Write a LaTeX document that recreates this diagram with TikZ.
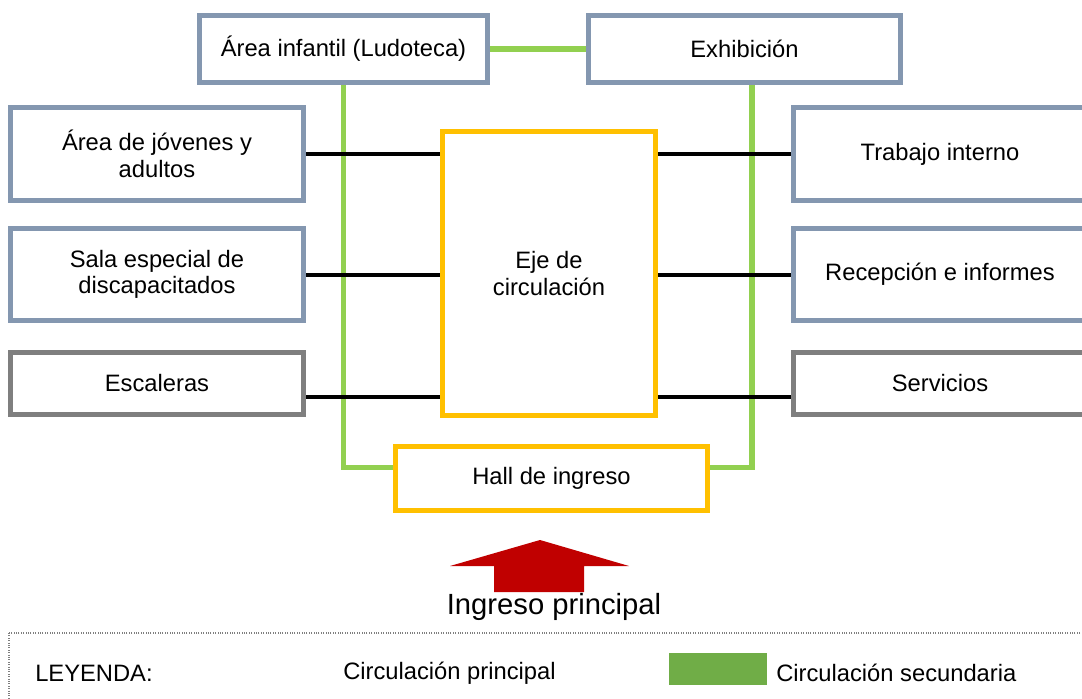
\documentclass[tikz,border=0pt]{standalone}
\usepackage{fontspec}
\setmainfont{Liberation Sans}
\usepackage{xcolor}
\usetikzlibrary{calc}

\definecolor{zonegray}{RGB}{132,151,176}
\definecolor{servgray}{RGB}{127,127,127}
\definecolor{ejeyellow}{RGB}{255,192,0}
\definecolor{secgreen}{RGB}{146,208,80}
\definecolor{legendgreen}{RGB}{112,173,71}
\definecolor{ingresored}{RGB}{192,0,0}

\begin{document}
\begin{tikzpicture}[x=0.75pt,y=0.75pt,yscale=-1,xscale=1,
  zone/.style={draw=zonegray,line width=4pt,fill=white,align=center,inner sep=2pt,
    font=\fontsize{17.8}{20}\selectfont},
  servzone/.style={zone,draw=servgray},
  ejezone/.style={zone,draw=ejeyellow},
  mainline/.style={black,line width=3pt},
  secline/.style={secgreen,line width=3.8pt},
  legendtext/.style={anchor=west,inner sep=0pt,font=\fontsize{17.8}{20}\selectfont}]
\useasboundingbox (0,0) rectangle (1082,699);

%Shape: Rectangle [upper row]
\node [zone,minimum width=216pt,minimum height=50pt] (infantil) at (343.5,49) {Área infantil (Ludoteca)};
\node [zone,minimum width=234pt,minimum height=50pt] (exhib) at (744.5,49) {Exhibición};

%Shape: Rectangle [left column]
\node [zone,minimum width=220pt,minimum height=70pt] (jovenes) at (157,154) {Área de jóvenes y\\adultos};
\node [zone,minimum width=220pt,minimum height=69pt] (sala) at (157,274.5) {Sala especial de\\discapacitados};
\node [servzone,minimum width=220pt,minimum height=46.5pt] (escal) at (157,383.5) {Escaleras};

%Shape: Rectangle [right column]
\node [zone,minimum width=220pt,minimum height=70pt] (trabajo) at (940,154) {Trabajo interno};
\node [zone,minimum width=220pt,minimum height=69pt] (recep) at (940,274.5) {Recepción e informes};
\node [servzone,minimum width=220pt,minimum height=46.5pt] (serv) at (940,383.5) {Servicios};

%Shape: Rectangle [center]
\node [ejezone,minimum width=160pt,minimum height=213pt] (eje) at (549,273.5) {Eje de\\circulación};
\node [ejezone,minimum width=234pt,minimum height=48pt] (hall) at (551.5,478.5) {Hall de ingreso};

%Straight Lines [secondary circulation]
\draw [secline] (infantil.east) -- (exhib.west);
\draw [secline] (infantil.south) |- ([yshift=-8.25pt]hall.west);
\draw [secline] ([xshift=5.6pt]exhib.south) |- ([yshift=-8.25pt]hall.east);

%Straight Lines [main circulation]
\draw [mainline] (jovenes.east) -- (jovenes.east -| eje.west);
\draw [mainline] (sala.east) -- (sala.east -| eje.west);
\draw [mainline] ([yshift=10pt]escal.east) -- ([yshift=10pt]escal.east -| eje.west);
\draw [mainline] (trabajo.west) -- (trabajo.west -| eje.east);
\draw [mainline] (recep.west) -- (recep.west -| eje.east);
\draw [mainline] ([yshift=10pt]serv.west) -- ([yshift=10pt]serv.west -| eje.east);

%Shape: Arrow
\fill [ingresored] (540,540) -- (629,566) -- (584,566) -- (584,592) -- (494,592) -- (494,566) -- (450,566) -- cycle;

% Text Node
\node [inner sep=0pt,font=\fontsize{21.9}{24}\selectfont] (ingreso) at (554,607) {Ingreso principal};

%Shape: Rectangle [legend]
\draw [servgray,densely dotted,line width=0.8pt] (9,633) rectangle (1095,715);
\node [legendtext] (leyenda) at (35,673) {LEYENDA:};
\node [legendtext] (princ) at (343,673) {Circulación principal};
\fill [legendgreen] (669,653) rectangle (767,685);
\node [legendtext] (secund) at (776,673) {Circulación secundaria};

\end{tikzpicture}
\end{document}
